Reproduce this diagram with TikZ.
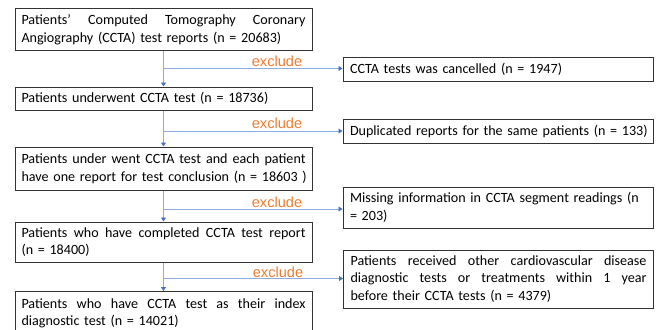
\documentclass[tikz,border=0pt]{standalone}
\usepackage{fontspec}
\setmainfont{Carlito}
\newfontfamily\exclfont{Liberation Sans}
\usetikzlibrary{arrows.meta}
\definecolor{lineblue}{RGB}{143,170,220}
\definecolor{tipblue}{RGB}{68,114,196}
\definecolor{exclorange}{RGB}{237,125,49}
\definecolor{boxgray}{RGB}{50,50,50}
\newcommand{\jlineL}[1]{\leavevmode\hbox to 284pt{\spaceskip=\fontdimen2\font plus 1fil\relax #1}\\}
\newcommand{\jlineR}[1]{\leavevmode\hbox to 296pt{\spaceskip=\fontdimen2\font plus 1fil\relax #1}\\}
\newcommand{\lline}[1]{\mbox{#1}}
\tikzset{
  leftbox/.style={draw=boxgray, line width=1pt, inner sep=0pt, text width=284pt, minimum width=297pt, align=left, font=\fontsize{14.1}{17.6}\selectfont},
  rightbox/.style={draw=boxgray, line width=1pt, inner sep=0pt, text width=296pt, minimum width=310pt, align=left, font=\fontsize{14.1}{17.6}\selectfont},
  flow/.style={draw=lineblue, line width=0.8pt, -{Triangle[length=4pt,width=5pt,color=tipblue]}},
  excl/.style={text=exclorange, font=\exclfont\fontsize{14.6}{16}\selectfont, inner sep=0pt}
}
\begin{document}
\begin{tikzpicture}[x=1pt,y=-1pt]
\useasboundingbox (0,0) rectangle (660,329);
\clip (0,0) rectangle (660,329);
% left boxes
\node[leftbox, minimum height=42pt] (b1) at (163.5,30) {\jlineL{Patients’ Computed Tomography Coronary}\lline{Angiography (CCTA) test reports (n = 20683)}};
\node[leftbox, minimum height=23pt] (b2) at (163.5,98.5) {\lline{Patients underwent CCTA test (n = 18736)}};
\node[leftbox, minimum height=43pt] (b3) at (163.5,168.5) {\jlineL{Patients under went CCTA test and each patient}\lline{have one report for test conclusion (n = 18603 )}};
\node[leftbox, minimum height=40pt] (b4) at (163.5,242) {\jlineL{Patients who have completed CCTA test report}\lline{(n = 18400)}};
\node[leftbox, minimum height=44pt, anchor=north] (b5) at (163.5,291) {\jlineL{Patients who have CCTA test as their index}\lline{diagnostic test (n = 14021)}};
% right boxes
\node[rightbox, minimum height=24pt] (r1) at (498,69) {\lline{CCTA tests was cancelled (n = 1947)}};
\node[rightbox, minimum height=24pt] (r2) at (498,131) {\lline{Duplicated reports for the same patients (n = 133)}};
\node[rightbox, minimum height=41pt] (r3) at (498,207.5) {\lline{Missing information in CCTA segment readings (n}\\\lline{= 203)}};
\node[rightbox, minimum height=58pt] (r4) at (498.5,279) {\jlineR{Patients received other cardiovascular disease}\jlineR{diagnostic tests or treatments within 1 year}\lline{before their CCTA tests (n = 4379)}};
% junctions
\coordinate (j1) at (163.5,68.5);
\coordinate (j2) at (163.5,131);
\coordinate (j3) at (163.5,209);
\coordinate (j4) at (163.5,278.5);
% vertical flow
\draw[flow] (b1.south) -- (b2.north);
\draw[flow] (b2.south) -- (b3.north);
\draw[flow] (b3.south) -- (b4.north);
\draw[flow] (b4.south) -- (b5.north);
% exclusions
\draw[flow] (j1) -- (j1 -| r1.west);
\draw[flow] (j2) -- (j2 -| r2.west);
\draw[flow] (j3) -- (j3 -| r3.west);
\draw[flow] (j4) -- (j4 -| r4.west);
\node[excl] (e1) at (277,61) {exclude};
\node[excl] (e2) at (277,123) {exclude};
\node[excl] (e3) at (277,202) {exclude};
\node[excl] (e4) at (278,272) {exclude};
\end{tikzpicture}
\end{document}
